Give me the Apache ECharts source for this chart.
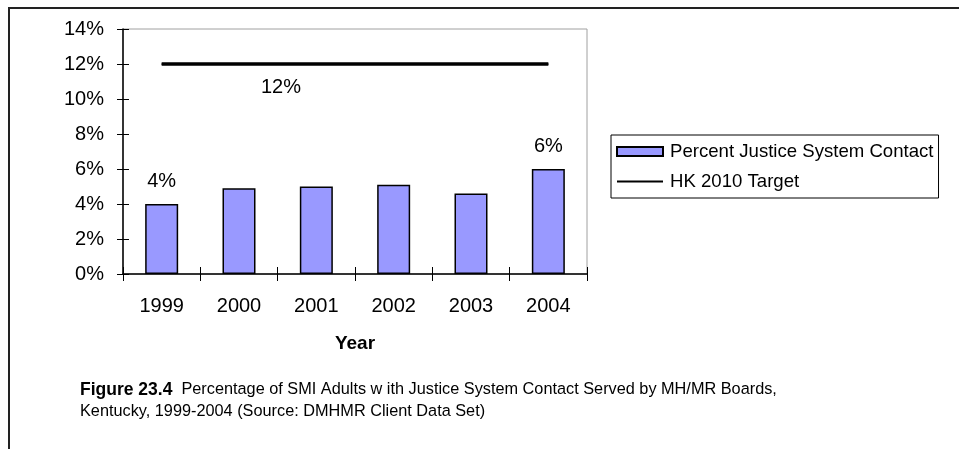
<!DOCTYPE html>
<html>
<head>
<meta charset="utf-8">
<script src="https://cdn.jsdelivr.net/npm/echarts@6/dist/echarts.min.js"></script>
<style>
  html, body { margin: 0; padding: 0; background: #fff; }
  #main { width: 959px; height: 449px; }
</style>
</head>
<body>
<div id="main"></div>
<script>
var years = ['1999', '2000', '2001', '2002', '2003', '2004'];
var contact = [4.0, 4.9, 5.0, 5.1, 4.6, 6.0];
var target = [12, 12, 12, 12, 12, 12];
var yTicks = { min: 0, max: 14, interval: 2 };

var myChart = echarts.init(document.getElementById('main'));
var font = 'Liberation Sans, Arial, sans-serif';

// only the first and last bars carry a value label
var barData = contact.map(function (v, i) {
  var show = (i === 0 || i === contact.length - 1);
  return {
    value: v,
    label: { show: show }
  };
});
// target label sits under the line near the 2000/2001 boundary
var lineData = target.map(function (v, i) {
  return {
    value: v,
    label: { show: i === 1, position: 'bottom', offset: [42, 8] }
  };
});

myChart.setOption({
  animation: false,
  textStyle: { fontFamily: font },
  graphic: [{
    type: 'rect',
    shape: { x: 9, y: 8, width: 1000, height: 500 },
    style: { fill: 'none', stroke: '#222', lineWidth: 2 }
  }],
  title: {
    left: 75,
    top: 374,
    text: '{b|Figure 23.4}  Percentage of SMI Adults w ith Justice System Contact Served by MH/MR Boards,\nKentucky, 1999-2004 (Source: DMHMR Client Data Set)',
    textStyle: {
      fontFamily: font,
      fontSize: 16.3,
      fontWeight: 'normal',
      color: '#000',
      lineHeight: 22,
      rich: {
        b: { fontFamily: font, fontSize: 17.5, fontWeight: 'bold', color: '#000', lineHeight: 22 }
      }
    }
  },
  legend: {
    orient: 'vertical',
    left: 611,
    top: 135,
    padding: [7, 5, 7, 5],
    itemGap: 11,
    itemWidth: 46,
    itemHeight: 9,
    borderColor: '#000',
    borderWidth: 1,
    textStyle: { fontFamily: font, fontSize: 18.6, color: '#000', padding: [0, 0, 0, 2] },
    data: [
      { name: 'Percent Justice System Contact', icon: 'rect' },
      { name: 'HK 2010 Target', itemStyle: { color: 'rgba(0,0,0,0)', borderWidth: 0 } }
    ]
  },
  grid: {
    left: 123,
    top: 29,
    right: 372,
    bottom: 175,
    show: true,
    borderColor: '#a0a0a0',
    borderWidth: 1
  },
  xAxis: [{
    type: 'category',
    data: years,
    name: 'Year',
    nameLocation: 'middle',
    nameGap: 60,
    nameTextStyle: { fontFamily: font, fontSize: 19, fontWeight: 'bold', color: '#000' },
    axisLine: { lineStyle: { color: '#000', width: 1.5 } },
    axisTick: { show: true, length: 7, lineStyle: { color: '#000' } },
    axisLabel: { fontFamily: font, fontSize: 20, color: '#000', margin: 22 },
    splitLine: { show: false }
  }, {
    type: 'category',
    data: years,
    position: 'bottom',
    axisLine: { show: false },
    axisTick: { show: true, inside: true, length: 7, lineStyle: { color: '#000' } },
    axisLabel: { show: false },
    splitLine: { show: false }
  }],
  yAxis: [{
    type: 'value',
    min: yTicks.min,
    max: yTicks.max,
    interval: yTicks.interval,
    axisLine: { show: true, lineStyle: { color: '#000', width: 1.5 } },
    axisTick: { show: true, length: 6, lineStyle: { color: '#000' } },
    axisLabel: {
      fontFamily: font, fontSize: 20, color: '#000', margin: 19,
      formatter: '{value}%'
    },
    splitLine: { show: false }
  }, {
    type: 'value',
    position: 'left',
    min: yTicks.min,
    max: yTicks.max,
    interval: yTicks.interval,
    axisLine: { show: false },
    axisTick: { show: true, inside: true, length: 6, lineStyle: { color: '#000' } },
    axisLabel: { show: false },
    splitLine: { show: false }
  }],
  series: [{
    name: 'Percent Justice System Contact',
    type: 'bar',
    data: barData,
    barWidth: 33,
    itemStyle: { color: '#9999ff', borderColor: '#000', borderWidth: 1.5 },
    label: {
      position: 'top',
      distance: 13,
      fontFamily: font,
      fontSize: 20,
      color: '#000',
      formatter: function (p) { return Math.round(p.value) + '%'; }
    }
  }, {
    name: 'HK 2010 Target',
    type: 'line',
    data: lineData,
    symbol: 'circle',
    symbolSize: 1,
    showSymbol: true,
    lineStyle: { color: '#000', width: 3.5 },
    itemStyle: { color: '#000' },
    label: {
      fontFamily: font,
      fontSize: 20,
      color: '#000',
      formatter: '{c}%'
    }
  }]
});
</script>
</body>
</html>
